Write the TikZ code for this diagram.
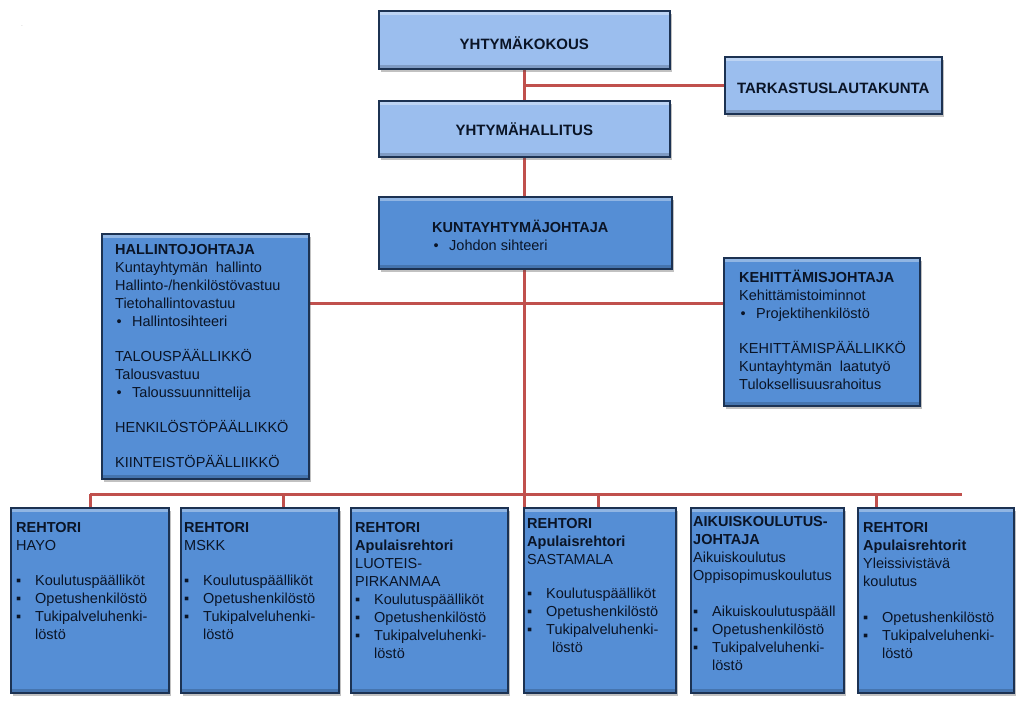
\documentclass[tikz,border=0pt]{standalone}
\usepackage{fontspec}
\setmainfont{Liberation Sans}
\usetikzlibrary{shadows,backgrounds}
\definecolor{lightblue}{RGB}{155,190,238}
\definecolor{midblue}{RGB}{85,142,213}
\definecolor{boxline}{RGB}{28,50,82}
\definecolor{redline}{RGB}{192,80,77}
\definecolor{txtcol}{RGB}{10,20,38}
\newcommand{\fsz}{\fontsize{14.5}{18}\selectfont}
\newcommand{\tsz}{\fontsize{15}{18}\selectfont}
\newcommand{\sq}{\makebox[19pt][l]{▪}}
\newcommand{\bul}{\makebox[17pt][l]{\hspace{1.5pt}•}}
\newcommand{\fl}{\rule{0pt}{12pt}}
\tikzset{
  box/.style={draw=boxline, line width=1.6pt, rectangle, inner sep=0pt, anchor=north west,
    drop shadow={shadow xshift=2.5pt, shadow yshift=-3pt, opacity=0.35, fill=black!70},
    path picture={
      \fill[white,opacity=0.35] (path picture bounding box.north west) rectangle ([yshift=-4pt]path picture bounding box.north east);
      \fill[black,opacity=0.18] (path picture bounding box.south west) rectangle ([yshift=4pt]path picture bounding box.south east);
    }},
  lightbox/.style={box, fill=lightblue},
  midbox/.style={box, fill=midblue},
  txt/.style={anchor=north west, inner sep=0pt, align=left, font=\fsz, text=txtcol},
  ctxt/.style={inner sep=0pt, font=\tsz\bfseries, text=txtcol},
  conn/.style={draw=redline, line width=3pt},
}
\begin{document}
\begin{tikzpicture}[x=1pt,y=-1pt]
\useasboundingbox (0,0) rectangle (1024,704);
\node[inner sep=0pt, font=\tiny, text=gray] (dot) at (22,26) {.};
% top boxes
\node[lightbox, minimum width=291pt, minimum height=58pt] (yk) at (378,10) {};
\node[ctxt] (ykt) at ([yshift=-3pt]yk.center) {YHTYMÄKOKOUS};
\node[lightbox, minimum width=217pt, minimum height=57pt] (tark) at (724,56) {};
\node[ctxt] (tarkt) at ([yshift=-3pt]tark.center) {TARKASTUSLAUTAKUNTA};
\node[lightbox, minimum width=291pt, minimum height=56pt] (yh) at (378,100) {};
\node[ctxt] (yht) at (yh.center) {YHTYMÄHALLITUS};
% middle
\node[midbox, minimum width=293pt, minimum height=72pt] (kj) at (378,196) {};
\node[txt] (kjt) at (432,220) {\fl\textbf{KUNTAYHTYMÄJOHTAJA}\\ \bul Johdon sihteeri};
\node[midbox, minimum width=207pt, minimum height=245pt] (hal) at (101,233) {};
\node[txt] (halt) at (115,242) {\fl\textbf{HALLINTOJOHTAJA}\\ Kuntayhtymän\ \ hallinto\\ Hallinto-/henkilöstövastuu\\ Tietohallintovastuu\\ \bul Hallintosihteeri\\[17pt] TALOUSPÄÄLLIKKÖ\\ Talousvastuu\\ \bul Taloussuunnittelija\\[17pt] HENKILÖSTÖPÄÄLLIKKÖ\\[17pt] KIINTEISTÖPÄÄLLIIKKÖ};
\node[midbox, minimum width=196pt, minimum height=148pt] (keh) at (723,257) {};
\node[txt] (keht) at (739,270) {\fl\textbf{KEHITTÄMISJOHTAJA}\\ Kehittämistoiminnot\\ \bul Projektihenkilöstö\\[17pt] KEHITTÄMISPÄÄLLIKKÖ\\ Kuntayhtymän\ \ laatutyö\\ Tuloksellisuusrahoitus};
% bottom boxes
\node[midbox, minimum width=158pt, minimum height=185pt] (b1) at (10,507) {};
\node[midbox, minimum width=158pt, minimum height=185pt] (b2) at (180,507) {};
\node[midbox, minimum width=157pt, minimum height=185pt] (b3) at (350,507) {};
\node[midbox, minimum width=152pt, minimum height=185pt] (b4) at (523,507) {};
\node[midbox, minimum width=153pt, minimum height=185pt] (b5) at (690,507) {};
\node[midbox, minimum width=156pt, minimum height=185pt] (b6) at (857,507) {};
\node[txt] (b1t) at (16,520) {\fl\textbf{REHTORI}\\ HAYO\\[17pt] \sq Koulutuspäälliköt\\ \sq Opetushenkilöstö\\ \sq Tukipalveluhenki-\\ \hspace*{19pt}löstö};
\node[txt] (b2t) at (184,520) {\fl\textbf{REHTORI}\\ MSKK\\[17pt] \sq Koulutuspäälliköt\\ \sq Opetushenkilöstö\\ \sq Tukipalveluhenki-\\ \hspace*{19pt}löstö};
\node[txt] (b3t) at (355,520) {\fl\textbf{REHTORI}\\ \textbf{Apulaisrehtori}\\ LUOTEIS-\\ PIRKANMAA\\ \sq Koulutuspäälliköt\\ \sq Opetushenkilöstö\\ \sq Tukipalveluhenki-\\ \hspace*{19pt}löstö};
\node[txt] (b4t) at (527,516) {\fl\textbf{REHTORI}\\ \textbf{Apulaisrehtori}\\ SASTAMALA\\[16pt] \sq Koulutuspäälliköt\\ \sq Opetushenkilöstö\\ \sq Tukipalveluhenki-\\ \hspace*{25pt}löstö};
\node[txt] (b5t) at (693,514) {\fl\textbf{AIKUISKOULUTUS-}\\ \textbf{JOHTAJA}\\ Aikuiskoulutus\\ Oppisopimuskoulutus\\[18pt] \sq Aikuiskoulutuspääll\\ \sq Opetushenkilöstö\\ \sq Tukipalveluhenki-\\ \hspace*{19pt}löstö};
\node[txt] (b6t) at (863,520) {\fl\textbf{REHTORI}\\ \textbf{Apulaisrehtorit}\\ Yleissivistävä\\ koulutus\\[18pt] \sq Opetushenkilöstö\\ \sq Tukipalveluhenki-\\ \hspace*{19pt}löstö};
% connectors
\coordinate (midL) at (308,303);
\coordinate (busL) at (90,494);
\coordinate (busR) at (962,494);
\coordinate (d2) at (283,494);
\coordinate (d4) at (598,494);
\coordinate (d6) at (876,494);
\begin{pgfonlayer}{background}
\draw[conn] (yk.south) -- (yh.north);
\draw[conn] (yk.south |- tark.west) -- (tark.west);
\draw[conn] (yh.south) -- (yh.south |- kj.north);
\draw[conn] (yh.south |- kj.south) -- (yh.south |- b4.north);
\draw[conn] (hal.east |- midL) -- (keh.west |- midL);
\draw[conn] (busL) -- (busR);
\draw[conn] (busL) -- (busL |- b1.north);
\draw[conn] (d2) -- (d2 |- b2.north);
\draw[conn] (d4) -- (d4 |- b4.north);
\draw[conn] (d6) -- (d6 |- b6.north);
\end{pgfonlayer}
\end{tikzpicture}
\end{document}
